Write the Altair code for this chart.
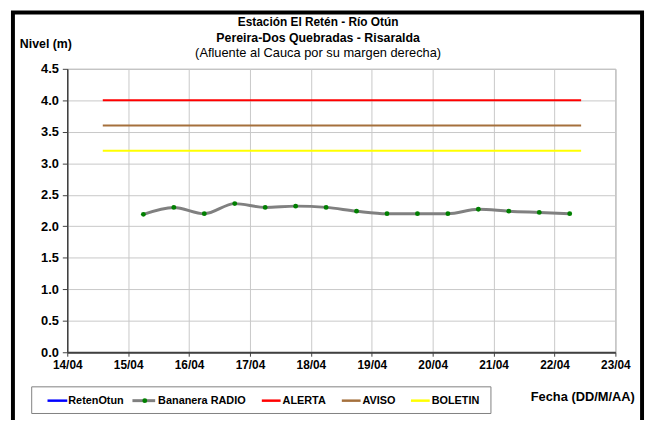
import altair as alt
import pandas as pd

# ---- data ----
times = [
    "2011-04-15T06:00:00Z", "2011-04-15T18:00:00Z",
    "2011-04-16T06:00:00Z", "2011-04-16T18:00:00Z",
    "2011-04-17T06:00:00Z", "2011-04-17T18:00:00Z",
    "2011-04-18T06:00:00Z", "2011-04-18T18:00:00Z",
    "2011-04-19T06:00:00Z", "2011-04-19T18:00:00Z",
    "2011-04-20T06:00:00Z", "2011-04-20T18:00:00Z",
    "2011-04-21T06:00:00Z", "2011-04-21T18:00:00Z",
    "2011-04-22T06:00:00Z",
]
levels = [2.19, 2.30, 2.20, 2.36, 2.30, 2.32, 2.30, 2.24,
          2.20, 2.20, 2.20, 2.27, 2.24, 2.22, 2.20]

threshold_names = ["ALERTA", "AVISO", "BOLETIN"]
threshold_values = [4.0, 3.6, 3.2]
threshold_start = "2011-04-14T14:00:00Z"
threshold_end = "2011-04-22T10:30:00Z"

legend_names = ["RetenOtun", "Bananera RADIO", "ALERTA", "AVISO", "BOLETIN"]
legend_colors = ["#0000ff", "#808080", "#ff0000", "#a5703c", "#ffff00"]
threshold_colors = ["#ff0000", "#a5703c", "#ffff00"]

day_ticks = [14, 15, 16, 17, 18, 19, 20, 21, 22, 23]
y_ticks = [0.0, 0.5, 1.0, 1.5, 2.0, 2.5, 3.0, 3.5, 4.0, 4.5]

title_lines = ["Estación El Retén - Río Otún", "Pereira-Dos Quebradas - Risaralda",
               "(Afluente al Cauca por su margen derecha)"]
y_title = "Nivel (m)"
x_title = "Fecha (DD/M/AA)"

# ---- layout (pixels relative to plot area) ----
W, H = 555, 287
FONT = "Liberation Sans"

series_df = pd.DataFrame({"t": times, "nivel": levels})
thr_df = pd.DataFrame({"name": threshold_names, "value": threshold_values,
                       "start": [threshold_start] * 3, "end": [threshold_end] * 3})
one = pd.DataFrame({"d": [0]})

x_dom = [alt.DateTime(year=2011, month=4, date=14, utc=True),
         alt.DateTime(year=2011, month=4, date=23, utc=True)]
x_vals = [alt.DateTime(year=2011, month=4, date=d, utc=True) for d in day_ticks]

xscale = alt.Scale(type="utc", domain=x_dom, nice=False)
yscale = alt.Scale(domain=[0, 4.5], nice=False)

xaxis = alt.Axis(values=x_vals, format="%d/%m", title=None, tickSize=4,
                 labelPadding=3, domainWidth=2, grid=True, labelFlush=False,
                 labelFontSize=12, labelOverlap=False)
yaxis = alt.Axis(values=y_ticks, format=".1f", title=None, tickSize=5,
                 labelPadding=4, domainWidth=1.5, grid=True, labelFontSize=13,
                 labelOverlap=False, labelFlush=False)

thr = alt.Chart(thr_df).mark_rule(strokeWidth=2).encode(
    x=alt.X("start:T", scale=xscale, axis=xaxis),
    x2="end:T",
    y=alt.Y("value:Q", scale=yscale, axis=yaxis),
    color=alt.Color("name:N", scale=alt.Scale(domain=threshold_names, range=threshold_colors), legend=None),
)

line = alt.Chart(series_df).mark_line(color="#808080", strokeWidth=3, interpolate="monotone").encode(
    x=alt.X("t:T", scale=xscale, axis=xaxis), y=alt.Y("nivel:Q", scale=yscale, axis=yaxis))
pts = alt.Chart(series_df).mark_point(filled=True, color="#008000", size=24, opacity=1).encode(
    x=alt.X("t:T", scale=xscale, axis=xaxis), y=alt.Y("nivel:Q", scale=yscale, axis=yaxis))

layers = [thr, line, pts]

# outer frame
layers.append(alt.Chart(one).mark_rect(fillOpacity=0, stroke="black", strokeWidth=4).encode(
    x=alt.value(-55), x2=alt.value(582), y=alt.value(-57), y2=alt.value(400)))

# titles
title_y = [-47, -31, -16]
title_size = [12, 12.5, 13]
for i, (txt, ty, fs) in enumerate(zip(title_lines, title_y, title_size)):
    layers.append(alt.Chart(one).mark_text(
        text=txt, font=FONT, fontSize=fs, fontWeight="normal" if i == 2 else "bold",
        align="center", baseline="middle", color="black").encode(
        x=alt.value(254), y=alt.value(ty)))

layers.append(alt.Chart(one).mark_text(
    text=y_title, font=FONT, fontSize=12.5, fontWeight="bold", align="left",
    baseline="middle", color="black").encode(x=alt.value(-48), y=alt.value(-25)))
layers.append(alt.Chart(one).mark_text(
    text=x_title, font=FONT, fontSize=13, fontWeight="bold", align="center",
    baseline="middle", color="black").encode(x=alt.value(522), y=alt.value(332)))

# legend box
layers.append(alt.Chart(one).mark_rect(fillOpacity=0, stroke="#808080", strokeWidth=1).encode(
    x=alt.value(-36), x2=alt.value(429), y=alt.value(322), y2=alt.value(349)))

leg_line_x = [(-20, 0), (66, 89), (197, 216), (278, 297), (348, 367)]
leg_text_x = [1, 92, 218, 299, 369]
LY = 336
for name, col, (a, b), tx in zip(legend_names, legend_colors, leg_line_x, leg_text_x):
    layers.append(alt.Chart(one).mark_rule(color=col, strokeWidth=2.5 if name != "Bananera RADIO" else 3).encode(
        x=alt.value(a), x2=alt.value(b), y=alt.value(LY)))
    if name == "Bananera RADIO":
        layers.append(alt.Chart(one).mark_point(filled=True, color="#008000", size=24, opacity=1).encode(
            x=alt.value((a + b) / 2 + 1), y=alt.value(LY)))
    layers.append(alt.Chart(one).mark_text(
        text=name, font=FONT, fontSize=11, fontWeight="bold", align="left",
        baseline="middle", color="black").encode(x=alt.value(tx), y=alt.value(LY)))

chart = alt.layer(*layers).properties(
    width=W, height=H,
    autosize=alt.AutoSizeParams(type="none"),
    padding={"left": 60, "top": 59, "right": 31, "bottom": 66},
    background="white",
).configure_view(stroke="#a0a0a0", strokeWidth=1).configure_axis(
    labelFont=FONT, labelFontWeight="bold", labelColor="black",
    gridColor="#c8c8c8", gridWidth=1, domainColor="#404040", tickColor="#404040",
)

chart.save("out.html", embed_options={"renderer": "svg", "actions": False})
